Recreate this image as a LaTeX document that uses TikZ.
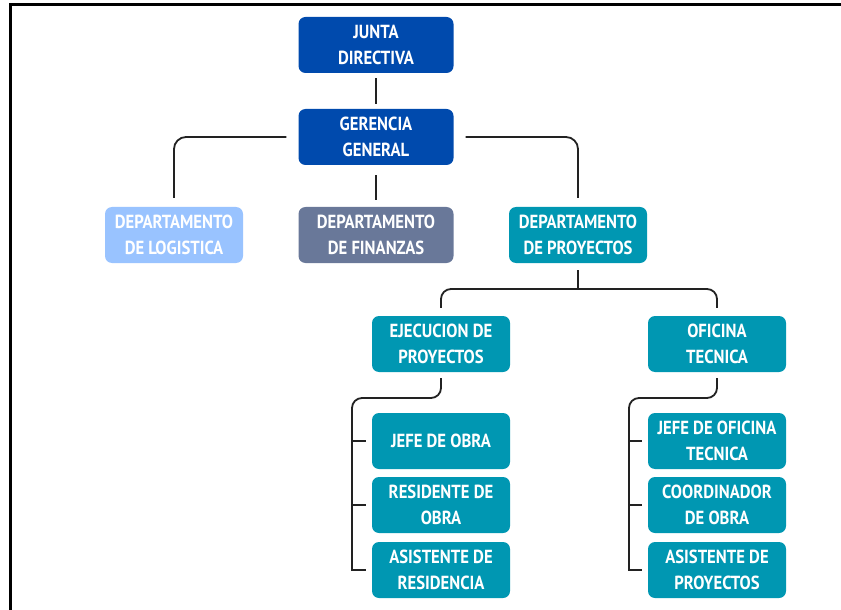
\documentclass[tikz,border=0pt]{standalone}
\usepackage{fontspec}
\setmainfont{PT Sans}[FakeStretch=0.88]
\usepackage{tikz}
\usetikzlibrary{calc}
\definecolor{azul}{HTML}{004AAD}
\definecolor{celeste}{HTML}{99C3FF}
\definecolor{pizarra}{HTML}{697899}
\definecolor{turquesa}{HTML}{0097B2}
\definecolor{linea}{HTML}{222222}

\begin{document}
\begin{tikzpicture}[x=1bp,y=-1bp,
  caja/.style={rounded corners=7bp,text=white,font=\bfseries\fontsize{19}{26}\selectfont,
    align=center,minimum height=56bp,inner sep=0pt},
  ancha/.style={caja,minimum width=155bp},
  angosta/.style={caja,minimum width=138bp},
  conn/.style={draw=linea,line width=1.8bp}]
\useasboundingbox (0,0) rectangle (841,610);
\draw[line width=3bp] (10,610) -- (10,5) -- (841,5);
% niveles superiores
\node[ancha,fill=azul] (junta) at (376,45) {JUNTA\\DIRECTIVA};
\node[ancha,fill=azul] (ger) at (376,137) {GERENCIA\\GENERAL};
\node[angosta,fill=celeste] (log) at (174,235) {DEPARTAMENTO\\DE LOGISTICA};
\node[ancha,fill=pizarra] (fin) at (376,235) {DEPARTAMENTO\\DE FINANZAS};
\node[angosta,fill=turquesa] (proy) at (578,235) {DEPARTAMENTO\\DE PROYECTOS};
% proyectos
\node[angosta,fill=turquesa] (ejec) at (441,344) {EJECUCION DE\\PROYECTOS};
\node[angosta,fill=turquesa] (ofi) at (717,344) {OFICINA\\TECNICA};
\node[angosta,fill=turquesa] (jefeob) at (441,441) {JEFE DE OBRA};
\node[angosta,fill=turquesa] (resid) at (441,505) {RESIDENTE DE\\OBRA};
\node[angosta,fill=turquesa] (asres) at (441,570) {ASISTENTE DE\\RESIDENCIA};
\node[angosta,fill=turquesa] (jefeof) at (717,441) {JEFE DE OFICINA\\TECNICA};
\node[angosta,fill=turquesa] (coord) at (717,505) {COORDINADOR\\DE OBRA};
\node[angosta,fill=turquesa] (aspro) at (717,570) {ASISTENTE DE\\PROYECTOS};
% conectores
\coordinate (bus) at (578,289);
\coordinate (ejbus) at (352,398);
\coordinate (ofbus) at (629,398);
\draw[conn,shorten <=5bp,shorten >=5bp] (junta.south) -- (ger.north);
\draw[conn,rounded corners=12bp,shorten <=12bp,shorten >=9bp] (ger.west) -| (log.north);
\draw[conn,shorten <=10bp,shorten >=7bp] (ger.south) -- (fin.north);
\draw[conn,rounded corners=12bp,shorten <=12bp,shorten >=9bp] (ger.east) -| (proy.north);
\draw[conn,shorten <=7bp] (proy.south) -- (bus);
\draw[conn,rounded corners=10bp,shorten <=8bp,shorten >=8bp] (ejec.north) |- (bus) -| (ofi.north);
\draw[conn,rounded corners=10bp,shorten <=6bp,shorten >=6bp] (ejec.south) |- (ejbus) [sharp corners] |- (asres.west);
\draw[conn,rounded corners=10bp,shorten <=6bp,shorten >=6bp] (ofi.south) |- (ofbus) [sharp corners] |- (aspro.west);
\draw[conn,shorten <=6bp] (jefeob.west) -- (jefeob.west -| ejbus);
\draw[conn,shorten <=6bp] (resid.west) -- (resid.west -| ejbus);
\draw[conn,shorten <=6bp] (jefeof.west) -- (jefeof.west -| ofbus);
\draw[conn,shorten <=6bp] (coord.west) -- (coord.west -| ofbus);
\end{tikzpicture}
\end{document}
